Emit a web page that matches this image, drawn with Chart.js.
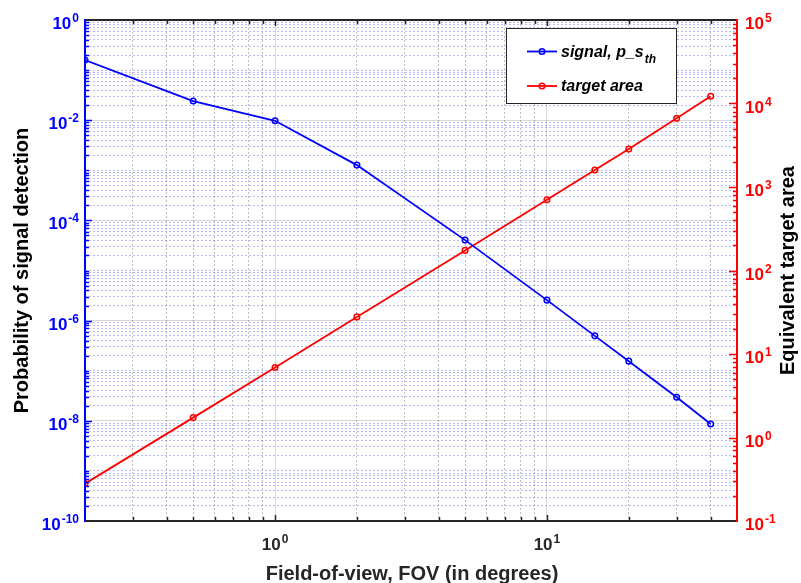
<!DOCTYPE html>
<html>
<head>
<meta charset="utf-8">
<title>Signal detection vs FOV</title>
<script src="https://cdn.jsdelivr.net/npm/chart.js@4.4.0/dist/chart.umd.min.js"></script>
<style>
  html, body { margin: 0; padding: 0; background: #fff; }
  #wrap { position: relative; width: 801px; height: 583px; }
</style>
</head>
<body>
<div id="wrap"><canvas id="myChart"></canvas></div>
<script>

// DONNEES //

const fov = [0.2, 0.5, 1, 2, 5, 10, 15, 20, 30, 40];
const signalProb = [0.159, 0.0241, 0.00975, 0.00127, 4.04e-5, 2.56e-6, 4.96e-7, 1.55e-7, 2.95e-8, 8.65e-9];
const targetArea = [0.28, 1.73, 6.89, 27.8, 174, 703, 1595, 2845, 6640, 12190];

// exponents shown as 10^n on each axis
const xLabelExps = [0, 1];
const leftLabelExps = [0, -2, -4, -6, -8, -10];
const rightLabelExps = [-1, 0, 1, 2, 3, 4, 5];

const FONT = '"Liberation Sans", Arial, sans-serif';
const BLUE = '#0000ff';
const RED = '#ff0000';
const DARK = '#262626';

const isDecade = v => Math.abs(Math.log10(v) - Math.round(Math.log10(v))) < 1e-9;
const isLeftMajor = v => isDecade(v) && Math.round(Math.log10(v)) % 2 === 0;

// m * 10^e values strictly inside (lo, hi)
function logTicks(lo, hi) {
  const out = [];
  for (let e = Math.floor(Math.log10(lo)); e <= Math.ceil(Math.log10(hi)); e++) {
    for (let m = 1; m <= 9; m++) {
      const v = +(m * Math.pow(10, e)).toPrecision(6);
      if (v > lo * 1.0001 && v < hi / 1.0001) out.push(v);
    }
  }
  return out;
}

const xTicks = logTicks(0.2, 50);
const leftTicks = logTicks(1e-10, 1);
const rightTicks = logTicks(0.1, 1e5);


// TEXTES, AXES, LEGENDE //

function drawPow(ctx, exp, x, yBase, align, color) {
  const base = '10', sup = String(exp);
  ctx.font = `bold 17px ${FONT}`;
  const bw = ctx.measureText(base).width;
  ctx.font = `bold 12px ${FONT}`;
  const sw = ctx.measureText(sup).width;
  const total = bw + 1 + sw;
  const x0 = align === 'right' ? x - total : align === 'center' ? x - total / 2 : x;
  ctx.fillStyle = color;
  ctx.textAlign = 'left';
  ctx.textBaseline = 'alphabetic';
  ctx.font = `bold 17px ${FONT}`;
  ctx.fillText(base, x0, yBase);
  ctx.font = `bold 12px ${FONT}`;
  ctx.fillText(sup, x0 + bw + 1, yBase - 7);
}

function tickLine(ctx, x1, y1, x2, y2) {
  ctx.beginPath();
  ctx.moveTo(x1, y1);
  ctx.lineTo(x2, y2);
  ctx.stroke();
}

const decor = {
  id: 'decor',
  afterDraw(chart) {
    const { ctx, chartArea: a, scales } = chart;
    const sx = scales.x, sy = scales.y, sy1 = scales.y1;
    ctx.save();

    // ticks pointing inside
    ctx.lineWidth = 1.5;
    ctx.strokeStyle = DARK;
    xTicks.forEach(v => {
      const px = Math.round(sx.getPixelForValue(v)) + 0.5;
      const len = isDecade(v) ? 6 : 4;
      tickLine(ctx, px, a.bottom, px, a.bottom - len);
      tickLine(ctx, px, a.top, px, a.top + len);
    });
    ctx.strokeStyle = BLUE;
    leftTicks.forEach(v => {
      const py = Math.round(sy.getPixelForValue(v)) + 0.5;
      tickLine(ctx, a.left, py, a.left + (isLeftMajor(v) ? 7 : 4), py);
    });
    ctx.strokeStyle = RED;
    rightTicks.forEach(v => {
      const py = Math.round(sy1.getPixelForValue(v)) + 0.5;
      tickLine(ctx, a.right, py, a.right - (isDecade(v) ? 8 : 4), py);
    });

    // box
    ctx.lineWidth = 2;
    ctx.strokeStyle = DARK;
    tickLine(ctx, a.left, a.top, a.right, a.top);
    tickLine(ctx, a.left, a.bottom, a.right, a.bottom);
    ctx.strokeStyle = BLUE;
    tickLine(ctx, a.left, a.top - 1, a.left, a.bottom + 1);
    ctx.strokeStyle = RED;
    tickLine(ctx, a.right, a.top - 1, a.right, a.bottom + 1);

    // tick labels
    xLabelExps.forEach(e => drawPow(ctx, e, sx.getPixelForValue(Math.pow(10, e)), 550, 'center', DARK));
    leftLabelExps.forEach(e => drawPow(ctx, e, 79, sy.getPixelForValue(Math.pow(10, e)) + 9, 'right', BLUE));
    rightLabelExps.forEach(e => drawPow(ctx, e, 745, sy1.getPixelForValue(Math.pow(10, e)) + 9, 'left', RED));

    // axis titles
    ctx.font = `bold 20px ${FONT}`;
    ctx.textAlign = 'center';
    ctx.textBaseline = 'alphabetic';
    ctx.fillStyle = DARK;
    ctx.fillText('Field-of-view, FOV (in degrees)', (a.left + a.right) / 2 + 1, 580);
    ctx.fillStyle = '#000';
    const midY = (a.top + a.bottom) / 2;
    ctx.save();
    ctx.translate(28, midY);
    ctx.rotate(-Math.PI / 2);
    ctx.fillText('Probability of signal detection', 0, 0);
    ctx.restore();
    ctx.save();
    ctx.translate(794, midY);
    ctx.rotate(-Math.PI / 2);
    ctx.fillText('Equivalent target area', 0, 0);
    ctx.restore();

    // legend
    ctx.fillStyle = '#fff';
    ctx.fillRect(506.5, 28.5, 170, 75);
    ctx.lineWidth = 1;
    ctx.strokeStyle = DARK;
    ctx.strokeRect(506.5, 28.5, 170, 75);
    const entries = [
      { color: BLUE, y: 51.5, text: 'signal, p_s', sub: 'th' },
      { color: RED, y: 86, text: 'target area', sub: '' }
    ];
    entries.forEach(en => {
      ctx.strokeStyle = en.color;
      ctx.lineWidth = 1.8;
      tickLine(ctx, 527, en.y, 557, en.y);
      ctx.lineWidth = 1.5;
      ctx.beginPath();
      ctx.arc(542, en.y, 2.8, 0, Math.PI * 2);
      ctx.stroke();
      ctx.fillStyle = '#000';
      ctx.textAlign = 'left';
      ctx.font = `italic bold 16px ${FONT}`;
      ctx.fillText(en.text, 561, en.y + 5);
      if (en.sub) {
        const w = ctx.measureText(en.text).width;
        ctx.font = `italic bold 12px ${FONT}`;
        ctx.fillText(en.sub, 561 + w + 1, en.y + 11);
      }
    });

    ctx.restore();
  }
};


// GRAPHIQUE //

const ctx = document.getElementById('myChart');

const lineStyle = color => ({
  borderColor: color,
  borderWidth: 1.8,
  pointRadius: 2.8,
  pointHoverRadius: 2.8,
  pointBorderWidth: 1.5,
  pointBorderColor: color,
  pointBackgroundColor: 'rgba(0,0,0,0)',
  tension: 0,
  clip: 0
});

new Chart(ctx, {
  type: 'line',
  data: {
    datasets: [
      {
        label: 'signal, p_s_th',
        data: fov.map((x, i) => ({ x, y: signalProb[i] })),
        yAxisID: 'y',
        ...lineStyle(BLUE)
      },
      {
        label: 'target area',
        data: fov.map((x, i) => ({ x, y: targetArea[i] })),
        yAxisID: 'y1',
        ...lineStyle(RED)
      }
    ]
  },
  options: {
    responsive: true,
    maintainAspectRatio: false,
    animation: false,
    layout: { padding: { top: 20, left: 0, right: 0, bottom: 0 } },
    plugins: {
      legend: { display: false },
      tooltip: { enabled: false }
    },
    scales: {
      x: {
        type: 'logarithmic',
        position: 'bottom',
        min: 0.2,
        max: 50,
        afterBuildTicks: s => { s.ticks = xTicks.map(value => ({ value })); },
        afterFit: s => { s.height = 62; },
        ticks: { display: false },
        border: { display: false, dash: c => (c.tick && !isDecade(c.tick.value)) ? [2, 2] : [] },
        grid: {
          drawTicks: false,
          lineWidth: 1,
          color: c => (c.tick && isDecade(c.tick.value)) ? 'rgba(38,38,38,0.18)' : 'rgba(38,38,38,0.3)'
        }
      },
      y: {
        type: 'logarithmic',
        position: 'left',
        min: 1e-10,
        max: 1,
        afterBuildTicks: s => { s.ticks = leftTicks.map(value => ({ value })); },
        afterFit: s => { s.width = 85; },
        ticks: { display: false },
        border: { display: false, dash: c => (c.tick && !isLeftMajor(c.tick.value)) ? [2, 2] : [] },
        grid: {
          drawTicks: false,
          lineWidth: 1,
          color: c => (c.tick && isLeftMajor(c.tick.value)) ? 'rgba(38,38,38,0.18)' : 'rgba(0,0,255,0.27)'
        }
      },
      y1: {
        type: 'logarithmic',
        position: 'right',
        min: 0.1,
        max: 1e5,
        afterBuildTicks: s => { s.ticks = rightTicks.map(value => ({ value })); },
        afterFit: s => { s.width = 64; },
        ticks: { display: false },
        border: { display: false },
        grid: { display: false, drawTicks: false }
      }
    }
  },
  plugins: [decor]
});

</script>
</body>
</html>
